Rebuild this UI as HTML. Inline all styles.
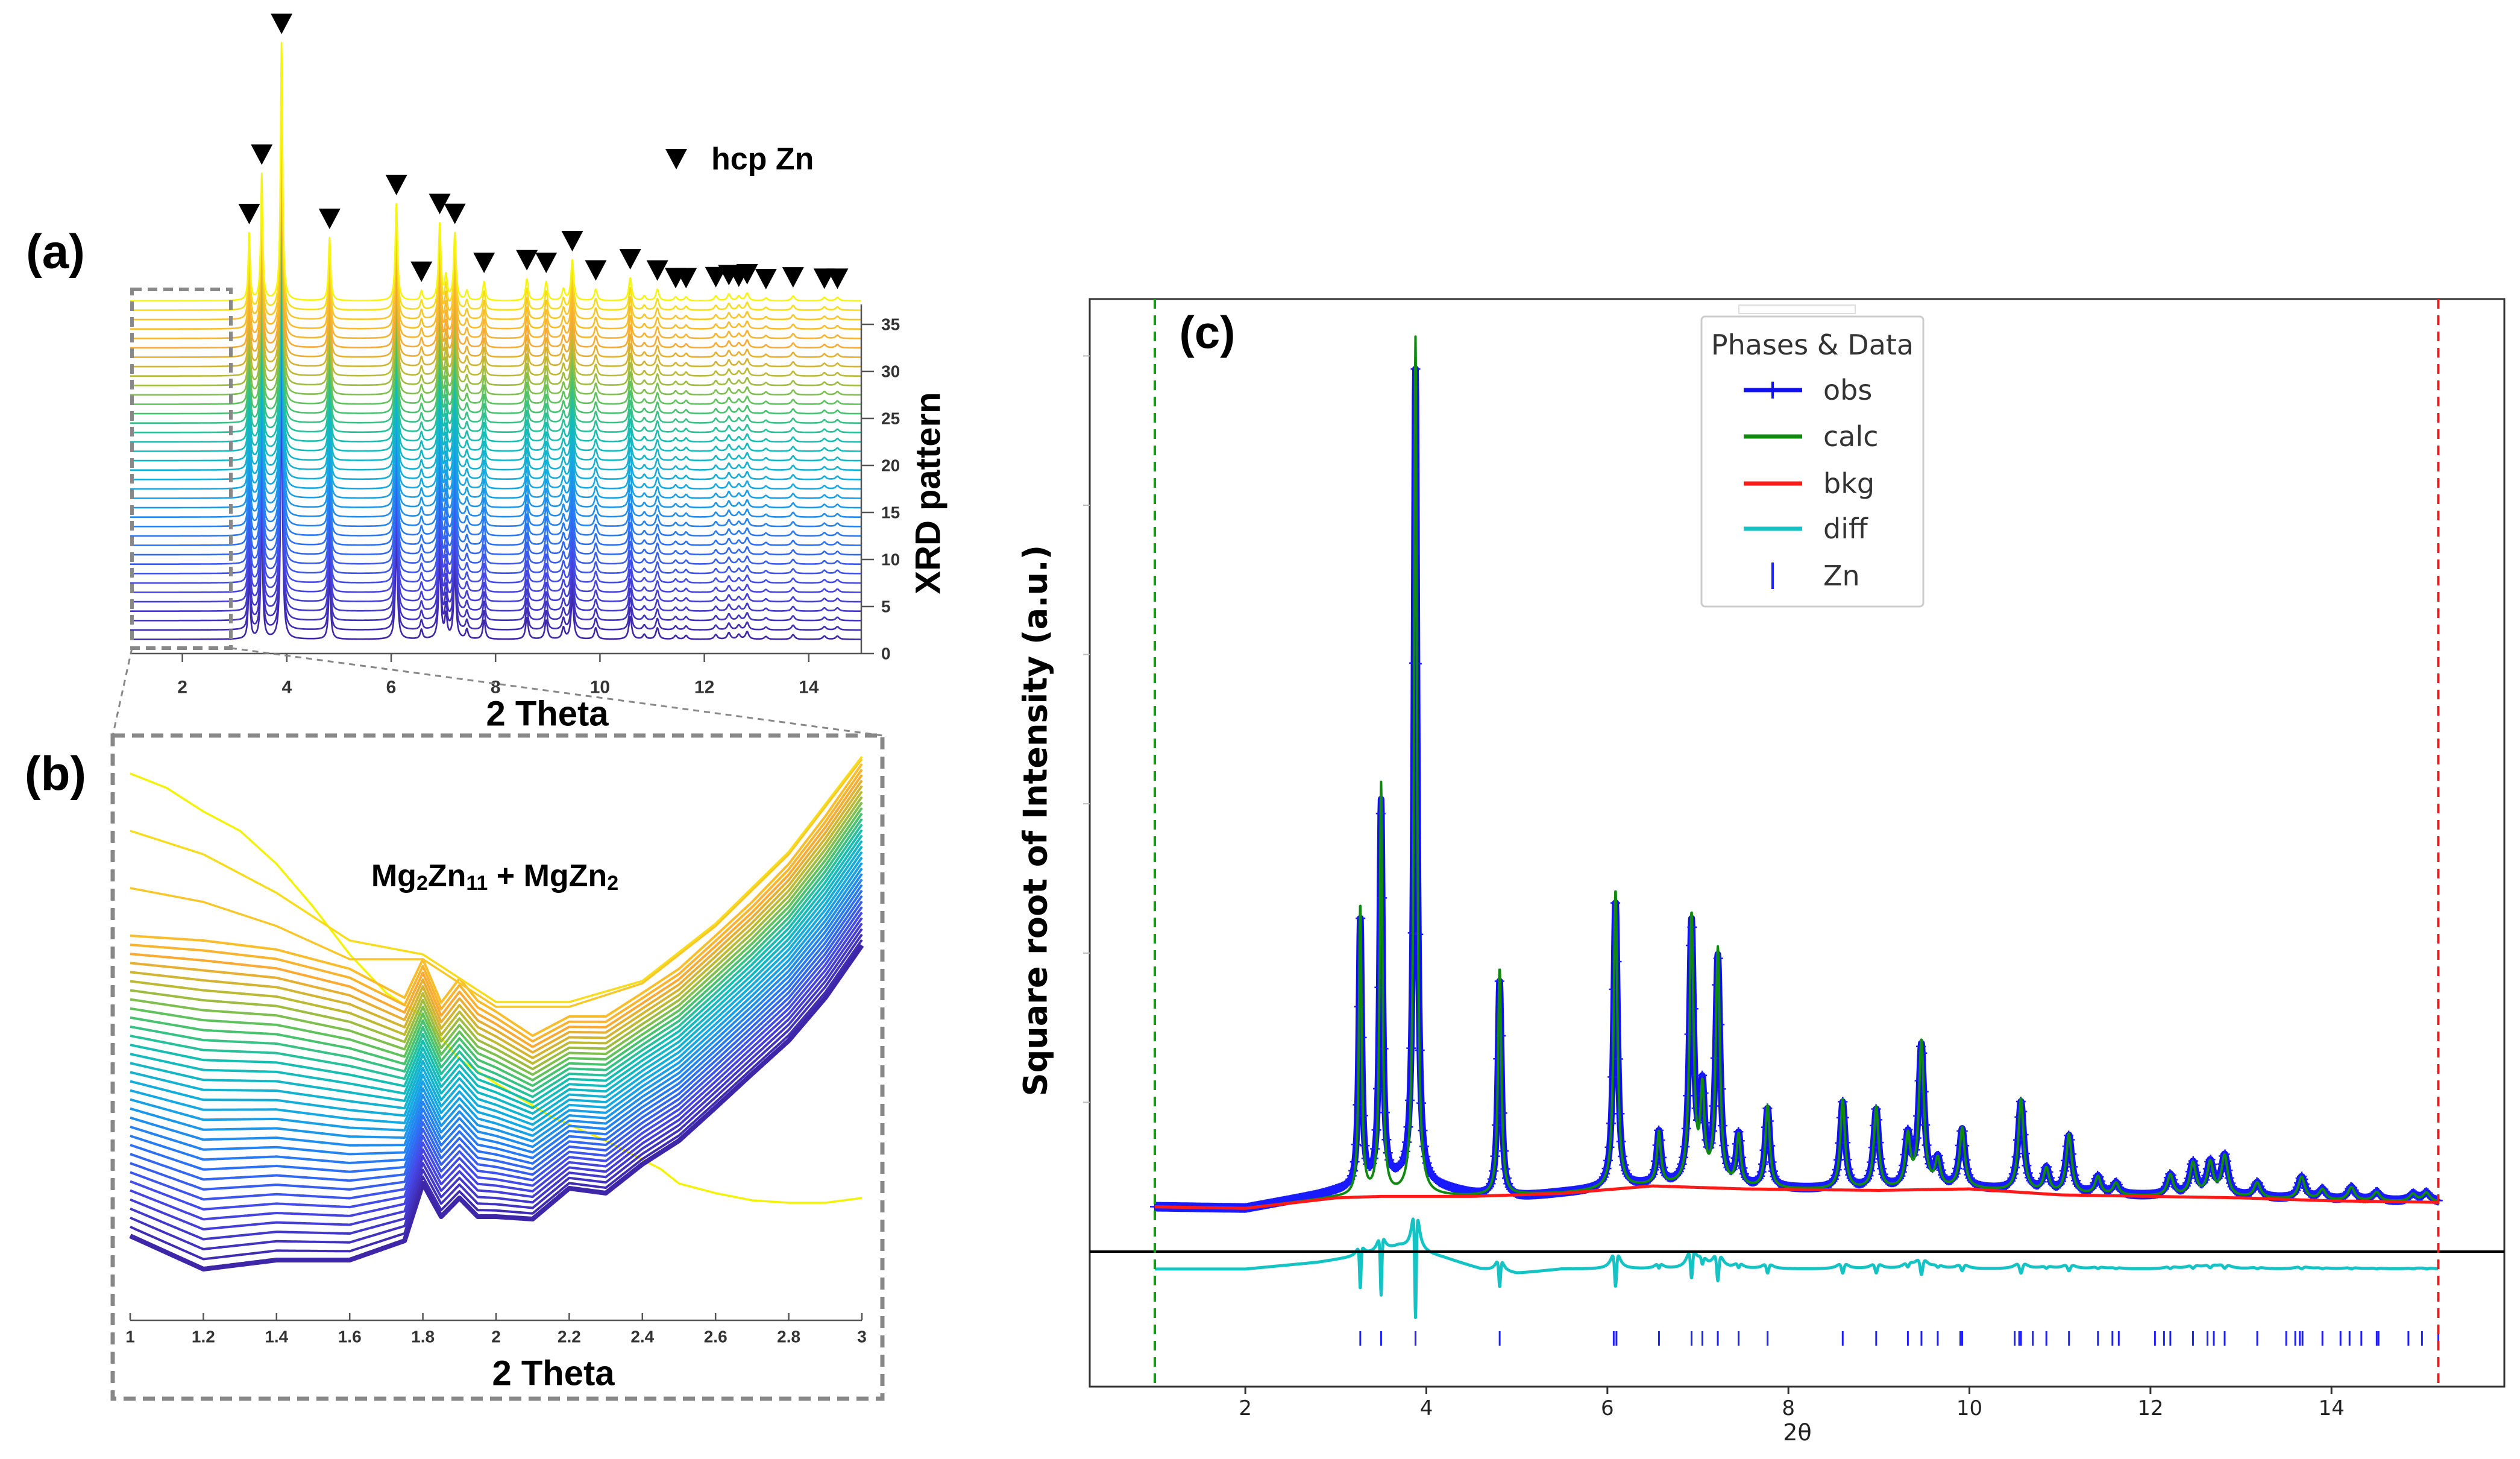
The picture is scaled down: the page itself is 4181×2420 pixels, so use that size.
<!DOCTYPE html>
<html><head><meta charset="utf-8"><style>
html,body{margin:0;padding:0;background:#fff;}
svg{display:block;}
text{font-family:"Liberation Sans",sans-serif;}
</style></head><body>
<svg id="fig" xmlns="http://www.w3.org/2000/svg" width="4181" height="2420" viewBox="0 0 4181 2420">
<rect x="0" y="0" width="4181" height="2420" fill="#fff"/>
<g id="pa"></g>
<g id="pb"></g>
<g id="pc"></g>
<text x="92" y="417" font-size="80" font-weight="bold" text-anchor="middle" dominant-baseline="central">(a)</text>
<text x="92" y="1283" font-size="80" font-weight="bold" text-anchor="middle" dominant-baseline="central">(b)</text>
<text x="2003" y="552" font-size="76" font-weight="bold" text-anchor="middle" dominant-baseline="central">(c)</text>
</svg>
<script>
// ---------- Panel A data ----------
const aPeakTheta=[3.28,3.52,3.9,4.82,6.1,6.58,6.93,7.05,7.22,7.45,7.78,8.6,8.97,9.3,9.47,9.92,10.58,10.85,11.1,11.45,11.65,12.22,12.47,12.66,12.82,13.18,13.7,14.3,14.55];
const aPeakHeight=[7.1,13.4,27.4,6.7,10.3,1.0,8.1,2.4,7.1,1.0,2.0,2.3,2.0,1.2,4.3,1.2,2.4,0.5,1.2,0.4,0.4,0.5,0.7,0.5,0.8,0.3,0.5,0.35,0.35];
const aMarkerTheta=[3.28,3.52,3.9,4.82,6.1,6.58,6.93,7.22,7.78,8.6,8.97,9.47,9.92,10.58,11.1,11.45,11.65,12.22,12.47,12.66,12.82,13.18,13.7,14.3,14.55];
const aScanCount=37;
const aXTicks=[2,4,6,8,10,12,14];
const aYTicks=[0,5,10,15,20,25,30,35];
// ---------- Panel B data ----------
const bTheta=[1,1.2,1.4,1.6,1.75,1.8,1.85,1.9,1.95,2.0,2.1,2.2,2.3,2.4,2.5,2.6,2.7,2.8,2.9,3.0];
const bBottom=[14.0,8.5,10.0,10.0,13.2,22.7,17.2,20.3,17.2,17.2,16.8,21.9,21.1,25.9,29.8,35.3,40.9,46.4,53.5,62.2];
const bTop=[63.8,63.0,61.5,58.3,53.5,59.9,52.7,56.7,53.0,51.2,47.2,50.4,50.4,54.3,58.3,63.8,69.4,75.7,83.6,92.3];
const bYTheta=[1,1.2,1.4,1.6,1.8,2.0,2.2,2.4,2.6,2.8,3.0];
const bYellow1=[71.7,69.4,65.4,59.9,59.9,52,52,55.9,65.4,77.3,93.1];
const bYellow2=[81.2,77.3,70.9,63,60.7,52.8,52.8,56.3,65.8,77.7,93.5];
const bOddTheta=[1,1.1,1.2,1.3,1.4,1.5,1.6,1.7,1.8,1.9,2.0,2.15,2.3,2.45,2.5,2.6,2.7,2.8,2.9,3.0];
const bOdd=[90.7,88.3,84.4,81.2,75.7,68.6,60.7,54.3,50.4,43.3,39.3,33.8,29.8,25.1,22.7,21.1,19.9,19.5,19.5,20.3];
const bXTicks=[1,1.2,1.4,1.6,1.8,2,2.2,2.4,2.6,2.8,3];
// ---------- Panel C data ----------
const cPeakTheta=[3.27,3.50,3.88,4.81,6.09,6.57,6.93,7.05,7.22,7.45,7.77,8.6,8.97,9.32,9.47,9.65,9.92,10.57,10.85,11.1,11.42,11.62,12.22,12.47,12.66,12.82,13.18,13.67,13.9,14.22,14.5,14.9,15.05];
const cCalcHeight=[1.95,2.75,5.75,1.52,2.0,0.35,1.8,0.6,1.58,0.34,0.55,0.6,0.55,0.34,0.98,0.18,0.4,0.62,0.16,0.4,0.12,0.08,0.14,0.22,0.22,0.27,0.1,0.15,0.07,0.09,0.06,0.05,0.06];
const cObsHeight=[1.8,2.55,5.45,1.45,1.92,0.35,1.75,0.6,1.52,0.34,0.53,0.58,0.53,0.34,0.95,0.18,0.39,0.6,0.16,0.39,0.12,0.08,0.14,0.22,0.22,0.27,0.1,0.15,0.07,0.09,0.06,0.05,0.06];
const cBkgTheta=[1,2,3,3.5,4.5,5.5,6.5,7.5,9,10,11,12,13,14,15.2];
const cBkg=[0.30,0.29,0.36,0.37,0.37,0.39,0.44,0.42,0.41,0.42,0.38,0.37,0.36,0.34,0.33];
const cObsExtraTheta=[1,2,2.8,3.3,3.7,4.2,4.6,5.0,5.5,5.9,6.5,15.2];
const cObsExtra=[0.0,0.0,0.03,0.06,0.1,0.05,0.0,-0.02,0.0,0.0,0.0,0.0];
const cZnTicks=[3.27,3.5,3.88,4.81,6.07,6.1,6.57,6.93,7.05,7.22,7.45,7.77,8.6,8.97,9.32,9.47,9.65,9.9,9.92,10.5,10.55,10.57,10.7,10.85,11.1,11.42,11.58,11.65,12.05,12.15,12.22,12.47,12.63,12.7,12.82,13.18,13.5,13.6,13.65,13.68,13.9,14.1,14.2,14.33,14.5,14.52,14.85,15.0,15.18];
const cDiffOffset=-0.117;
const cXTicks=[2,4,6,8,10,12,14];
const cYTicks=[1,2,3,4,5,6];
const cLegendLabels=["obs","calc","bkg","diff","Zn"];

const NS="http://www.w3.org/2000/svg";
function mk(parent,tag,attrs){const e=document.createElementNS(NS,tag);for(const k in attrs)e.setAttribute(k,attrs[k]);parent.appendChild(e);return e;}
function interp(xs,ys,x){if(x<=xs[0])return ys[0];for(let i=1;i<xs.length;i++){if(x<=xs[i]){const t=(x-xs[i-1])/(xs[i]-xs[i-1]);return ys[i-1]+t*(ys[i]-ys[i-1]);}}return ys[ys.length-1];}
const stops=[[0,[62,38,168]],[0.15,[70,70,230]],[0.3,[40,120,245]],[0.45,[20,170,225]],[0.58,[20,190,180]],[0.68,[80,195,100]],[0.78,[190,185,50]],[0.86,[250,170,50]],[0.95,[248,200,40]],[1,[245,245,15]]];
function cmap(t){for(let i=1;i<stops.length;i++){if(t<=stops[i][0]){const a=stops[i-1],b=stops[i],f=(t-a[0])/(b[0]-a[0]);const c=a[1].map((v,j)=>Math.round(v+f*(b[1][j]-v)));return `rgb(${c[0]},${c[1]},${c[2]})`;}}return 'rgb(245,245,15)';}

// ================= PANEL A =================
const pa=document.getElementById('pa');
const axA=t=>216+(t-1)*86.6;
const ayA=v=>1084-v*15.6;
function aSig(t){let s=0;for(let k=0;k<aPeakTheta.length;k++){const w=0.016+0.0016*aPeakTheta[k];const d=(t-aPeakTheta[k])/w;s+=aPeakHeight[k]/(1+d*d);}return s;}
const aSteps=[];for(let t=1;t<=15.0001;t+=0.005)aSteps.push(t);
const aSigVals=aSteps.map(aSig);
for(let i=0;i<aScanCount;i++){
  const base=1.5+i;
  let d='';
  aSteps.forEach((t,j)=>{d+=(j?'L':'M')+axA(t).toFixed(1)+' '+ayA(base+aSigVals[j]).toFixed(1);});
  const p=mk(pa,'path',{d:d,fill:'none',stroke:cmap(i/(aScanCount-1)),'stroke-width':2.6,'stroke-linejoin':'round'});
  
  
}
aMarkerTheta.forEach((t,k)=>{
  const top=ayA(1.5+aScanCount-1+aSig(t));
  const x=axA(t),y=top-14;
  const tri=mk(pa,'polygon',{points:`${x-18},${y-34} ${x+18},${y-34} ${x},${y}`,fill:'#000'});
  
  
});
mk(pa,'polygon',{points:'1104,247 1140,247 1122,281',fill:'#000',});
mk(pa,'text',{x:1180,y:264,'font-size':52,'font-weight':'bold','dominant-baseline':'central',}).textContent='hcp Zn';
mk(pa,'line',{x1:216,y1:1084,x2:1429,y2:1084,stroke:'#555','stroke-width':2.5,});
mk(pa,'line',{x1:1429,y1:1084,x2:1429,y2:505,stroke:'#555','stroke-width':2.5,});
aXTicks.forEach(v=>{
  const x=axA(v);
  const l=mk(pa,'line',{x1:x,y1:1084,x2:x,y2:1098,stroke:'#555','stroke-width':2.5});
  
  const tx=mk(pa,'text',{x:x,y:1140,'font-size':30,'font-weight':'bold',fill:'#333','text-anchor':'middle','dominant-baseline':'central'});
  
  tx.textContent=v;
});
aYTicks.forEach(v=>{
  const y=ayA(v);
  const l=mk(pa,'line',{x1:1429,y1:y,x2:1450,y2:y,stroke:'#555','stroke-width':2.5});
  
  const tx=mk(pa,'text',{x:1462,y:y,'font-size':28,'font-weight':'bold',fill:'#333','dominant-baseline':'central'});
  
  tx.textContent=v;
});
mk(pa,'text',{x:1540,y:818,'font-size':58,'font-weight':'bold','text-anchor':'middle','dominant-baseline':'central',transform:'rotate(-90 1540 818)',}).textContent='XRD pattern';
mk(pa,'text',{x:908,y:1184,'font-size':58,'font-weight':'bold','text-anchor':'middle','dominant-baseline':'central',}).textContent='2 Theta';
mk(pa,'rect',{x:219,y:480,width:164,height:595,fill:'none',stroke:'#888','stroke-width':6,'stroke-dasharray':'16 10',});
mk(pa,'line',{x1:219,y1:1075,x2:187,y2:1220,stroke:'#888','stroke-width':3,'stroke-dasharray':'10 8',});
mk(pa,'line',{x1:383,y1:1075,x2:1464,y2:1220,stroke:'#888','stroke-width':3,'stroke-dasharray':'10 8',});

// ================= PANEL B =================
const pb=document.getElementById('pb');
const axB=t=>216+(t-1)*607;
const ayB=v=>2190-v*10;
mk(pb,'rect',{x:187,y:1220,width:1277,height:1100,fill:'none',stroke:'#888','stroke-width':7,'stroke-dasharray':'20 12',});
const bSteps=[];for(let t=1;t<=3.0001;t+=0.005)bSteps.push(t);
function pathB(fn){let d='';bSteps.forEach((t,j)=>{d+=(j?'L':'M')+axB(t).toFixed(1)+' '+ayB(fn(t)).toFixed(1);});return d;}
const odd=mk(pb,'path',{d:pathB(t=>interp(bOddTheta,bOdd,t)),fill:'none',stroke:'#f2f20a','stroke-width':3.5});

const bN=34;
for(let i=0;i<bN;i++){
  const f=i/(bN-1);
  const p=mk(pb,'path',{d:pathB(t=>{const lo=interp(bTheta,bBottom,t),hi=interp(bTheta,bTop,t);return lo+f*(hi-lo);}),fill:'none',stroke:cmap(i/36),'stroke-width':i===0?8:4,'stroke-linejoin':'round'});
  
  
}
const y1=mk(pb,'path',{d:pathB(t=>interp(bYTheta,bYellow1,t)),fill:'none',stroke:cmap(34/36),'stroke-width':3.5});

const y2=mk(pb,'path',{d:pathB(t=>interp(bYTheta,bYellow2,t)),fill:'none',stroke:cmap(35/36),'stroke-width':3.5});

mk(pb,'line',{x1:216,y1:2190,x2:1430,y2:2190,stroke:'#555','stroke-width':2.5,});
bXTicks.forEach(v=>{
  const x=axB(v);
  const l=mk(pb,'line',{x1:x,y1:2190,x2:x,y2:2178,stroke:'#555','stroke-width':2.5});
  
  const tx=mk(pb,'text',{x:x,y:2217,'font-size':28,'font-weight':'bold',fill:'#333','text-anchor':'middle','dominant-baseline':'central'});
  
  tx.textContent=v;
});
mk(pb,'text',{x:918,y:2278,'font-size':58,'font-weight':'bold','text-anchor':'middle','dominant-baseline':'central',}).textContent='2 Theta';
const ph=mk(pb,'text',{x:821,y:1453,'font-size':52,'font-weight':'bold','text-anchor':'middle','dominant-baseline':'central',});
ph.innerHTML='Mg<tspan font-size="34" dy="12">2</tspan><tspan dy="-12">Zn</tspan><tspan font-size="34" dy="12">11</tspan><tspan dy="-12"> + MgZn</tspan><tspan font-size="34" dy="12">2</tspan>';

// ================= PANEL C =================
const pc=document.getElementById('pc');
const axC=t=>1916+(t-1)*150.17;
const ayC=v=>2076-v*247.6;
mk(pc,'rect',{x:1808,y:496,width:2347,height:1804,fill:'none',stroke:'#333','stroke-width':3,});
mk(pc,'rect',{x:2885,y:506,width:193,height:14,fill:'none',stroke:'#ddd','stroke-width':2,});
function cPeaks(t,hs,wf){let s=0;for(let k=0;k<cPeakTheta.length;k++){const w=(0.010+0.0024*cPeakTheta[k])*wf;const d=(t-cPeakTheta[k])/w;s+=hs[k]/(1+d*d);}return s;}
const cSteps=[];for(let t=1;t<=15.18;t+=0.004)cSteps.push(t);
const bkgV=cSteps.map(t=>interp(cBkgTheta,cBkg,t));
const calcV=cSteps.map((t,j)=>bkgV[j]+cPeaks(t,cCalcHeight,1));
const obsV=cSteps.map((t,j)=>bkgV[j]+interp(cObsExtraTheta,cObsExtra,t)+cPeaks(t,cObsHeight,1.1));
function pathC(vals){let d='';cSteps.forEach((t,j)=>{d+=(j?'L':'M')+axC(t).toFixed(1)+' '+ayC(vals[j]).toFixed(1);});return d;}
mk(pc,'path',{d:pathC(obsV),fill:'none',stroke:'#1010f0','stroke-width':11,'stroke-linejoin':'round',});
let cross='';cSteps.forEach((t,j)=>{if(j%4)return;const x=axC(t),y=ayC(obsV[j]);cross+=`M${(x-8).toFixed(1)} ${y.toFixed(1)}h16M${x.toFixed(1)} ${(y-8).toFixed(1)}v16`;});
mk(pc,'path',{d:cross,fill:'none',stroke:'#1a1aff','stroke-width':2.5,});
mk(pc,'path',{d:pathC(calcV),fill:'none',stroke:'#0f8a0f','stroke-width':4,'stroke-linejoin':'round',});
mk(pc,'path',{d:pathC(bkgV),fill:'none',stroke:'#ff1a1a','stroke-width':5,});
const diffV=cSteps.map((t,j)=>cDiffOffset+(obsV[j]-calcV[j])*1.5);
mk(pc,'path',{d:pathC(diffV),fill:'none',stroke:'#14c4c4','stroke-width':5,'stroke-linejoin':'round',});
mk(pc,'line',{x1:1808,y1:ayC(0),x2:4155,y2:ayC(0),stroke:'#000','stroke-width':4,});
cZnTicks.forEach(t=>{
  const l=mk(pc,'line',{x1:axC(t),y1:2208,x2:axC(t),y2:2232,stroke:'#2020ff','stroke-width':3});
  
});
mk(pc,'line',{x1:axC(1),y1:496,x2:axC(1),y2:2300,stroke:'#1a9a1a','stroke-width':4,'stroke-dasharray':'16 11',});
mk(pc,'line',{x1:axC(15.18),y1:496,x2:axC(15.18),y2:2300,stroke:'#e02020','stroke-width':4,'stroke-dasharray':'16 11',});
cXTicks.forEach(v=>{
  const x=axC(v);
  const l=mk(pc,'line',{x1:x,y1:2300,x2:x,y2:2312,stroke:'#333','stroke-width':3});
  
  const tx=mk(pc,'text',{x:x,y:2336,'font-size':34,fill:'#222','text-anchor':'middle','dominant-baseline':'central',style:'font-family:"DejaVu Sans",sans-serif'});
  
  tx.textContent=v;
});
cYTicks.forEach(v=>{
  const y=ayC(v);
  const l=mk(pc,'line',{x1:1808,y1:y,x2:1797,y2:y,stroke:'#bbb','stroke-width':2});
  
});
mk(pc,'text',{x:2982,y:2376,'font-size':38,fill:'#222','text-anchor':'middle','dominant-baseline':'central',style:'font-family:"DejaVu Sans",sans-serif',}).textContent='2θ';
mk(pc,'text',{x:1718,y:1361,'font-size':54,'font-weight':'bold','text-anchor':'middle','dominant-baseline':'central',transform:'rotate(-90 1718 1361)',style:'font-family:"DejaVu Sans",sans-serif',}).textContent='Square root of Intensity (a.u.)';
// legend
const lg=mk(pc,'g',{});
mk(lg,'rect',{x:2823,y:525,width:368,height:481,rx:6,fill:'#fff',stroke:'#ccc','stroke-width':3,});
mk(lg,'text',{x:3007,y:572,'font-size':46,fill:'#333','text-anchor':'middle','dominant-baseline':'central',style:'font-family:"DejaVu Sans",sans-serif',}).textContent='Phases & Data';
const lgY=[647,724,802,877,955];
const lgCol=['#1010f0','#0f8a0f','#ff1a1a','#14c4c4','#2020ff'];
cLegendLabels.forEach((lab,i)=>{
  const y=lgY[i];
  if(i<4){
    const l=mk(lg,'line',{x1:2893,y1:y,x2:2990,y2:y,stroke:lgCol[i],'stroke-width':7});
    
    if(i===0){const c=mk(lg,'line',{x1:2941,y1:y-14,x2:2941,y2:y+14,stroke:lgCol[0],'stroke-width':4});}
  }else{
    const l=mk(lg,'line',{x1:2941,y1:y-22,x2:2941,y2:y+22,stroke:lgCol[i],'stroke-width':4});
    
  }
  const tx=mk(lg,'text',{x:3025,y:y,'font-size':46,fill:'#333','dominant-baseline':'central',style:'font-family:"DejaVu Sans",sans-serif'});
  
  tx.textContent=lab;
});
</script>
</body></html>
